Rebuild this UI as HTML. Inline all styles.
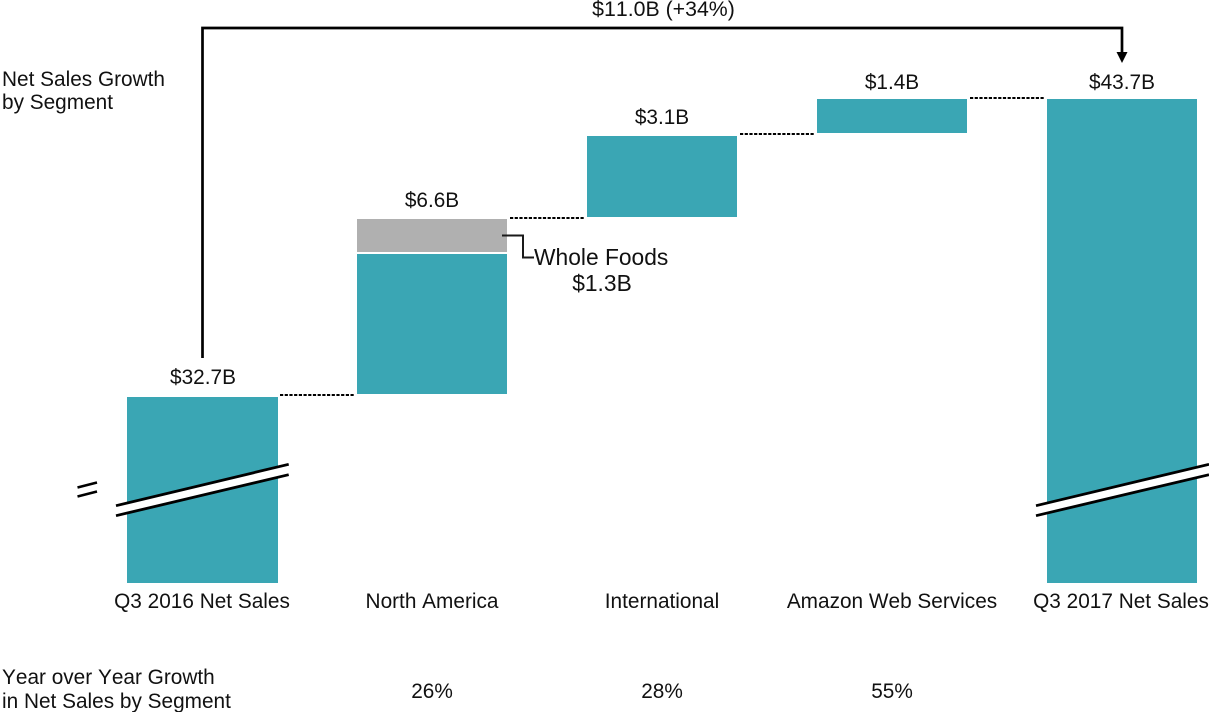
<!DOCTYPE html>
<html><head><meta charset="utf-8"><style>
html,body{margin:0;padding:0;background:#fff;width:1209px;height:712px;overflow:hidden}
svg{display:block}
text{font-family:"Liberation Sans",Arial,sans-serif;font-size:20.8px;fill:#111;font-kerning:none}
.m{text-anchor:middle}
.w{font-size:22.8px}
</style></head><body>
<svg width="1209" height="712" viewBox="0 0 1209 712" xmlns="http://www.w3.org/2000/svg">
<rect width="1209" height="712" fill="#fff"/>
<g fill="#3aa6b4">
<rect x="127" y="397" width="151" height="186"/>
<rect x="357" y="254" width="150" height="140"/>
<rect x="587" y="136" width="150" height="81"/>
<rect x="817" y="99" width="150" height="34"/>
<rect x="1047" y="99" width="150" height="484"/>
</g>
<rect x="357" y="219" width="150" height="33" fill="#b0b0b0"/>
<g stroke="#000" stroke-width="2" stroke-dasharray="3.200 1.500" fill="none">
<line x1="280" y1="395" x2="355" y2="395"/>
<line x1="510" y1="218" x2="585" y2="218"/>
<line x1="740" y1="134" x2="815" y2="134"/>
<line x1="970" y1="98" x2="1045" y2="98"/>
</g>
<path d="M202.500 358V28H1122V56" fill="none" stroke="#000" stroke-width="2.700"/>
<path d="M1116.500 52H1127.500L1122 63Z" fill="#000"/>
<path d="M502 235.500H523V257.500H534" fill="none" stroke="#1a1a1a" stroke-width="2"/>
<polygon points="116,505.700 288.700,464.300 288.700,474.700 116,515.700" fill="#fff"/>
<polygon points="1036,505.700 1209,464.300 1209,474.700 1036,515.700" fill="#fff"/>
<g stroke="#000" stroke-width="2.800" fill="none">
<line x1="116" y1="505.700" x2="288.700" y2="464.300"/>
<line x1="116" y1="515.700" x2="288.700" y2="474.700"/>
<line x1="1036" y1="505.700" x2="1209" y2="464.300"/>
<line x1="1036" y1="515.700" x2="1209" y2="474.700"/>
</g>
<g stroke="#000" stroke-width="2.500" fill="none">
<line x1="77.500" y1="487.500" x2="97" y2="482.500"/>
<line x1="77.500" y1="496.500" x2="97" y2="491.500"/>
</g>
<text class="m" x="663.500" y="16" style="font-size:21.300px">$11.0B (+34%)</text>
<text x="2" y="86">Net Sales Growth</text>
<text x="2" y="109">by Segment</text>
<text class="m" x="203" y="384">$32.7B</text>
<text class="m" x="432" y="207">$6.6B</text>
<text class="m" x="662" y="124">$3.1B</text>
<text class="m" x="892" y="89">$1.4B</text>
<text class="m" x="1122" y="89">$43.7B</text>
<text class="w" x="534" y="265">Whole Foods</text>
<text class="m w" x="602" y="291">$1.3B</text>
<text class="m" x="202" y="608">Q3 2016 Net Sales</text>
<text class="m" x="432" y="608">North America</text>
<text class="m" x="662" y="608">International</text>
<text class="m" x="892" y="608">Amazon Web Services</text>
<text class="m" x="1121" y="608">Q3 2017 Net Sales</text>
<text x="2" y="684">Year over Year Growth</text>
<text x="2" y="708">in Net Sales by Segment</text>
<text class="m" x="432" y="698">26%</text>
<text class="m" x="662" y="698">28%</text>
<text class="m" x="892" y="698">55%</text>
</svg>
</body></html>
